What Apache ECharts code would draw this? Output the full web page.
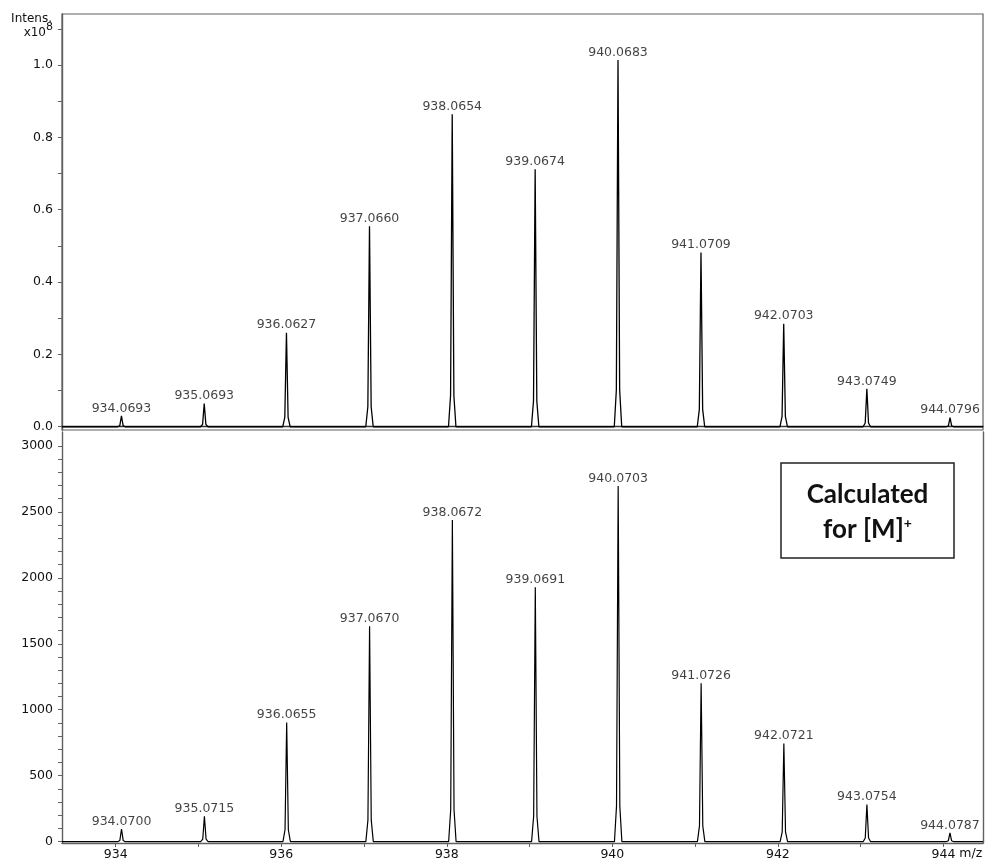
<!DOCTYPE html>
<html>
<head>
<meta charset="utf-8">
<script src="https://cdn.jsdelivr.net/npm/echarts@6/dist/echarts.min.js"></script>
<style>
  html, body { margin: 0; padding: 0; background: #fff; }
  #chart { width: 987px; height: 863px; }
</style>
</head>
<body>
<div id="chart"></div>
<script>
// Measured isotope pattern (intensity in units of 10^8)
const mzMeasured = [934.0693, 935.0693, 936.0627, 937.0660, 938.0654, 939.0674, 940.0683, 941.0709, 942.0703, 943.0749, 944.0796];
const intMeasured = [0.030, 0.064, 0.260, 0.554, 0.864, 0.712, 1.014, 0.482, 0.285, 0.105, 0.025];

// Calculated isotope pattern for [M]+
const mzCalc = [934.0700, 935.0715, 936.0655, 937.0670, 938.0672, 939.0691, 940.0703, 941.0726, 942.0721, 943.0754, 944.0787];
const intCalc = [96, 192, 904, 1633, 2438, 1929, 2696, 1200, 744, 281, 66];

// Axis ticks and labels
const mzTicks = [934, 935, 936, 937, 938, 939, 940, 941, 942, 943, 944];
const mzLabels = [934, 936, 938, 940, 942, 944];
const topTicks = [0, 0.1, 0.2, 0.3, 0.4, 0.5, 0.6, 0.7, 0.8, 0.9, 1.0, 1.1];
const topLabels = [0, 0.2, 0.4, 0.6, 0.8, 1.0, 1.1];
const botTicks = [0, 100, 200, 300, 400, 500, 600, 700, 800, 900, 1000, 1100, 1200, 1300, 1400, 1500, 1600, 1700, 1800, 1900, 2000, 2100, 2200, 2300, 2400, 2500, 2600, 2700, 2800, 2900, 3000];
const botLabels = [0, 500, 1000, 1500, 2000, 2500, 3000];

const X_MIN = 933.351, X_MAX = 944.478;

// Profile of a single centroid peak: [m/z offset, fraction of peak height]
const PEAK_PROFILE = [[-0.045, 0], [-0.02, 0.1], [0, 1], [0.02, 0.1], [0.045, 0]];

function profileLine(mzs, ints) {
  const pts = [[X_MIN, 0]];
  mzs.forEach((m, i) => {
    PEAK_PROFILE.forEach(([dx, f]) => pts.push([m + dx, ints[i] * f]));
  });
  pts.push([X_MAX, 0]);
  return pts;
}

function apexPoints(mzs, ints) {
  return mzs.map((m, i) => ({ value: [m, ints[i]], label: { formatter: m.toFixed(4) } }));
}

const FONT = 'DejaVu Sans';
const FS = 12.5;
const axisColor = '#606060';
const textColor = '#111';

const chart = echarts.init(document.getElementById('chart'), null, { renderer: 'canvas' });

const labelStyle = {
  show: true, position: 'top', distance: 1,
  fontFamily: FONT, fontSize: FS, color: textColor
};

chart.setOption({
  animation: false,
  backgroundColor: '#fff',
  grid: [
    { left: 62, right: 4, top: 14, height: 416, outerBoundsMode: 'none', show: true, borderColor: axisColor, borderWidth: 1.2, backgroundColor: 'transparent' },
    { left: 62, right: 4, top: 432, bottom: 20, outerBoundsMode: 'none' }
  ],
  xAxis: [
    {
      type: 'value', gridIndex: 0, min: X_MIN, max: X_MAX,
      axisLine: { show: true, lineStyle: { color: '#333', width: 1.4 } },
      axisTick: { show: false }, axisLabel: { show: false }, splitLine: { show: false }
    },
    {
      type: 'value', gridIndex: 1, min: X_MIN, max: X_MAX,
      name: 'm/z', nameLocation: 'end', nameGap: -27,
      nameTextStyle: { fontFamily: FONT, fontSize: FS, color: textColor, verticalAlign: 'top', align: 'left', padding: [4, 0, 0, 0] },
      axisLine: { show: true, onZero: false, lineStyle: { color: axisColor, width: 1.4 } },
      axisTick: { show: true, length: 4, customValues: mzTicks, lineStyle: { color: axisColor } },
      axisLabel: { customValues: mzLabels, margin: 5, fontFamily: FONT, fontSize: FS, color: textColor },
      splitLine: { show: false }
    }
  ],
  yAxis: [
    {
      type: 'value', gridIndex: 0, min: -0.009, max: 1.141,
      axisLine: { show: true, onZero: false, lineStyle: { color: axisColor, width: 1.4 } },
      axisTick: { show: true, length: 4, customValues: topTicks, lineStyle: { color: axisColor } },
      axisLabel: {
        customValues: topLabels, margin: 9, fontFamily: FONT, fontSize: FS, color: textColor,
        formatter: v => (v > 1.05 ? '{x|x10}{s|8}' : v.toFixed(1)),
        rich: {
          x: { fontFamily: FONT, fontSize: 12, color: textColor, lineHeight: 20, verticalAlign: 'bottom' },
          s: { fontFamily: FONT, fontSize: 11, color: textColor, lineHeight: 20, verticalAlign: 'top', padding: [3, 0, 0, 0] }
        }
      },
      splitLine: { show: false }
    },
    {
      type: 'value', gridIndex: 1, min: -10, max: 3105,
      axisLine: { show: true, onZero: false, lineStyle: { color: axisColor, width: 1.4 } },
      axisTick: { show: true, length: 4, customValues: botTicks, lineStyle: { color: axisColor } },
      axisLabel: { customValues: botLabels, margin: 9, fontFamily: FONT, fontSize: FS, color: textColor, formatter: v => String(v) },
      splitLine: { show: false }
    },
    {
      type: 'value', gridIndex: 1, position: 'right', min: -10, max: 3105,
      axisLine: { show: true, onZero: false, lineStyle: { color: axisColor, width: 1.4 } },
      axisTick: { show: false }, axisLabel: { show: false }, splitLine: { show: false }
    }
  ],
  series: [
    {
      type: 'line', xAxisIndex: 0, yAxisIndex: 0,
      data: profileLine(mzMeasured, intMeasured),
      showSymbol: false, silent: true,
      lineStyle: { color: '#000', width: 1.3 }
    },
    {
      type: 'scatter', xAxisIndex: 0, yAxisIndex: 0,
      data: apexPoints(mzMeasured, intMeasured),
      symbolSize: 0, silent: true, label: labelStyle
    },
    {
      type: 'line', xAxisIndex: 1, yAxisIndex: 1,
      data: profileLine(mzCalc, intCalc),
      showSymbol: false, silent: true,
      lineStyle: { color: '#000', width: 1.2 }
    },
    {
      type: 'scatter', xAxisIndex: 1, yAxisIndex: 1,
      data: apexPoints(mzCalc, intCalc),
      symbolSize: 0, silent: true, label: labelStyle
    }
  ],
  graphic: [
    {
      type: 'text', x: 52, y: 19,
      style: { text: 'Intens.', fontFamily: FONT, fontSize: 12, fill: textColor, align: 'right', verticalAlign: 'middle' }
    },
    {
      type: 'group', x: 781, y: 463,
      children: [
        {
          type: 'rect', shape: { x: 0, y: 0, width: 173, height: 95 },
          style: { fill: '#fff', stroke: '#222', lineWidth: 1.5 }
        },
        {
          type: 'text', x: 86.5, y: 49,
          style: {
            text: '{b|Calculated}\n{b|for [M]}{s|+}',
            align: 'center', verticalAlign: 'middle',
            rich: {
              b: { fontFamily: 'Lato', fontWeight: 'bold', fontSize: 26, fill: '#111', lineHeight: 35 },
              s: { fontFamily: 'Lato', fontWeight: 'bold', fontSize: 14, fill: '#111', lineHeight: 35, padding: [0, 0, 13, 0] }
            }
          }
        }
      ]
    }
  ]
});
</script>
</body>
</html>
